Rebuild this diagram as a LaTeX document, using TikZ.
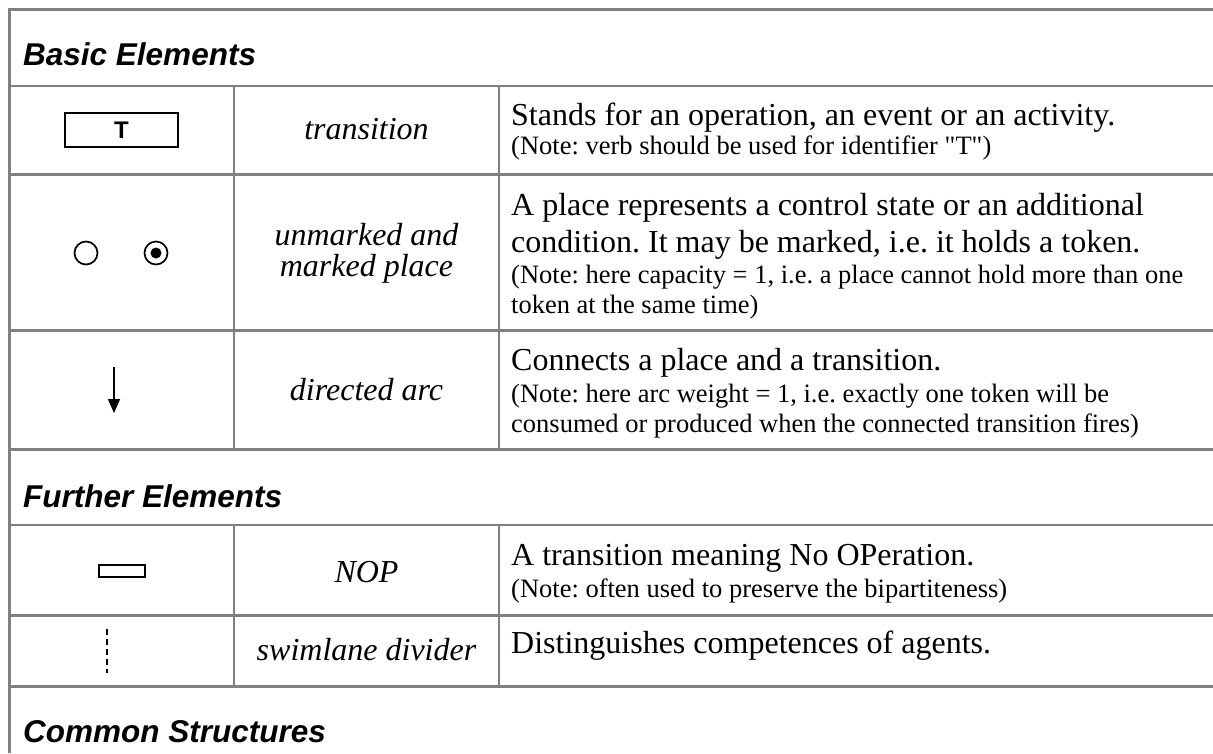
\documentclass[tikz,border=0pt]{standalone}
\usepackage{fontspec}
\setmainfont{Liberation Serif}
\newfontfamily\arialfont{Liberation Sans}
% same serif face, but with straight double quotes left as typed
\newfontfamily\straightq{Liberation Serif}[Ligatures=TeXOff]
\usetikzlibrary{arrows.meta}
\begin{document}
\frenchspacing
\begin{tikzpicture}[x=1pt,y=-1pt,
  grid/.style={draw=black!50, line width=2.8pt},
  symb/.style={draw=black, line width=1.7pt},
  heading/.style={anchor=base west, inner sep=0pt, font=\arialfont\bfseries\itshape\fontsize{31.5}{36}\selectfont},
  term/.style={anchor=base, inner sep=0pt, font=\itshape\fontsize{32}{37}\selectfont},
  desc/.style={anchor=base west, inner sep=0pt, font=\fontsize{32}{37}\selectfont},
  note/.style={anchor=base west, inner sep=0pt, font=\fontsize{26.5}{30}\selectfont}]
\useasboundingbox (0,0) rectangle (1213,753);
\fill[white] (0,0) rectangle (1213,753);

% table rules
\draw[grid] (9.5,753) -- (9.5,9.5) -- (1213,9.5);
\foreach \yy in {86,174.5,330.5,449.5,525,615.5,686.5}
  \draw[grid] (9.5,\yy) -- (1213,\yy);
\foreach \xx in {234,499} {
  \draw[grid] (\xx,86) -- (\xx,449.5);
  \draw[grid] (\xx,525) -- (\xx,686.5);
}

% section headings
\node[heading] (hbasic) at (23,65) {Basic Elements};
\node[heading] (hfurther) at (23,507) {Further Elements};
\node[heading] (hcommon) at (23,742) {Common Structures};

% symbols
\node[symb, minimum width=113pt, minimum height=34pt, inner sep=0pt,
      font=\arialfont\bfseries\fontsize{24}{26}\selectfont] (trans) at (121.5,130) {T};
\node[symb, circle, minimum size=23pt, inner sep=0pt] (pempty) at (86,253) {};
\node[symb, circle, minimum size=23pt, inner sep=0pt] (pfull) at (156,253) {};
\fill (pfull.center) circle (5.5);
\coordinate (arcA) at (114,367);
\coordinate (arcB) at (114,413);
\draw[line width=1.6pt, -{Triangle[length=14pt,width=12pt]}] (arcA) -- (arcB);
\node[symb, minimum width=46pt, minimum height=12pt, inner sep=0pt] (nop) at (122,571) {};
\coordinate (swA) at (107,629);
\coordinate (swB) at (107,673);
\draw[line width=1.2pt, dash pattern=on 6pt off 4pt] (swA) -- (swB);

% terms
\node[term] (ttrans) at (366.5,139) {transition};
\node[term] (tplace1) at (366.5,245) {unmarked and};
\node[term] (tplace2) at (366.5,276) {marked place};
\node[term] (tarc) at (366.5,400) {directed arc};
\node[term] (tnop) at (366.5,582) {NOP};
\node[term] (tswim) at (366.5,660) {swimlane divider};

% descriptions
\node[desc] (d1) at (511,125) {Stands for an operation, an event or an activity.};
\node[note] (n1) at (511,154) {(Note: verb should be used for identifier {\straightq "T")}};
\node[desc] (d2a) at (511,215) {A place represents a control state or an additional};
\node[desc] (d2b) at (511,252) {condition. It may be marked, i.e. it holds a token.};
\node[note] (n2a) at (511,283) {(Note: here capacity = 1, i.e. a place cannot hold more than one};
\node[note] (n2b) at (511,313) {token at the same time)};
\node[desc] (d3) at (511,370) {Connects a place and a transition.};
\node[note] (n3a) at (511,402) {(Note: here arc weight = 1, i.e. exactly one token will be};
\node[note] (n3b) at (511,432) {consumed or produced when the connected transition fires)};
\node[desc] (d4) at (511,565) {A transition meaning No OPeration.};
\node[note] (n4) at (511,597) {(Note: often used to preserve the bipartiteness)};
\node[desc] (d5) at (511,653) {Distinguishes competences of agents.};
\end{tikzpicture}
\end{document}
